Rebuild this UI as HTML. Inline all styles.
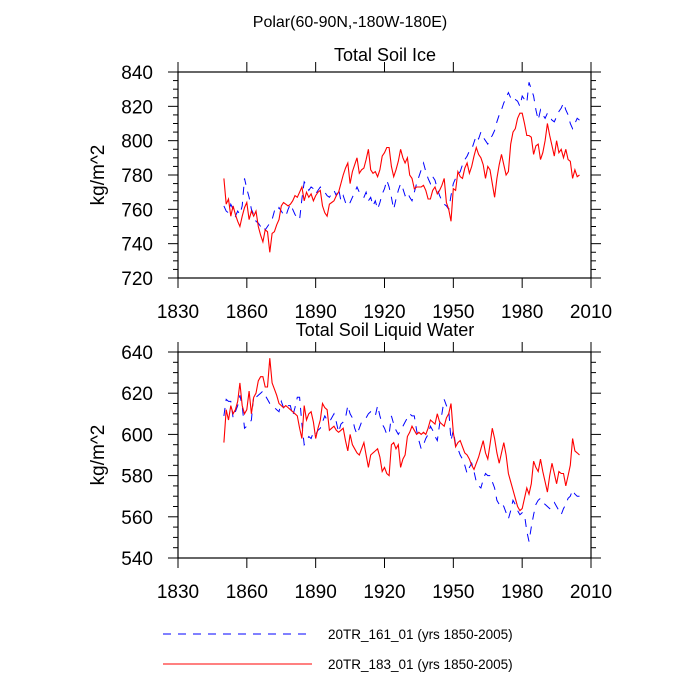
<!DOCTYPE html>
<html><head><meta charset="utf-8"><style>
html,body{margin:0;padding:0;background:#fff}
svg{display:block}
text{font-family:"Liberation Sans",sans-serif;fill:#000}
</style></head><body>
<svg id="chart" width="700" height="700" viewBox="0 0 700 700" xmlns="http://www.w3.org/2000/svg">
<text x="350" y="27" font-size="16" text-anchor="middle">Polar(60-90N,-180W-180E)</text>
<text x="385" y="61" font-size="18" text-anchor="middle">Total Soil Ice</text>
<text x="385" y="336" font-size="18" text-anchor="middle">Total Soil Liquid Water</text>
<g id="p1"></g>
<g id="p2"></g>
<g>
<line x1="163" y1="634" x2="312" y2="634" stroke="#0000ff" stroke-width="1" stroke-dasharray="8,7"/>
<text x="328" y="639" font-size="13.5">20TR_161_01 (yrs 1850-2005)</text>
<line x1="163" y1="664" x2="312" y2="664" stroke="#ff0000" stroke-width="1"/>
<text x="328" y="669" font-size="13.5">20TR_183_01 (yrs 1850-2005)</text>
</g>
</svg>
<script>
const startYear = 1850;
const xTicks = [1830,1860,1890,1920,1950,1980,2010];
const iceTicks = [720,740,760,780,800,820,840];
const liqTicks = [540,560,580,600,620,640];
const ice183 = [778,763,766,756,762,757,753,750,756,761,764,754,759,756,759,750,745,741,748,747,735,746,747,751,754,762,764,763,762,763,765,768,767,770,773,765,770,767,769,765,768,770,771,762,758,756,763,764,765,768,770,775,780,784,787,775,782,786,790,781,783,784,789,795,783,781,782,779,783,791,793,796,
796,785,779,783,788,795,790,787,790,780,778,772,773,773,773,774,771,766,766,771,773,769,771,774,778,764,760,753,772,771,782,779,778,784,787,781,785,791,796,792,790,786,778,785,783,775,767,778,786,792,786,780,782,798,805,807,813,816,816,810,803,803,802,792,797,798,789,793,800,810,803,797,791,800,793,795,790,795,789,788,778,783,779,780];
const ice161 = [762,759,758,763,760,756,759,757,762,778,772,767,760,757,753,752,750,751,748,750,752,754,759,758,761,759,757,756,760,763,760,757,755,754,766,776,774,771,773,772,769,771,773,771,770,768,767,769,771,768,772,765,768,764,762,764,767,770,773,770,768,767,770,765,767,762,765,760,764,769,772,777,
773,767,760,766,771,775,772,768,770,767,765,770,775,779,783,787,782,778,775,779,777,772,768,765,763,762,760,768,775,778,780,782,786,789,791,794,795,799,803,801,805,802,800,798,801,803,806,811,815,818,822,825,828,825,823,824,823,820,826,824,822,834,830,826,818,812,818,815,813,816,814,812,811,814,817,819,822,818,815,810,807,810,813,812];
const liq183 = [596,612,607,614,610,612,616,625,614,610,612,621,610,618,620,626,628,628,623,623,637,625,622,619,615,614,613,614,613,612,611,610,609,603,598,614,607,610,611,606,598,603,607,615,613,612,602,603,604,602,601,602,603,597,592,600,595,593,591,590,593,596,590,584,590,591,592,593,589,582,584,581,
580,595,596,593,595,584,588,590,599,601,604,602,600,601,600,601,600,603,607,606,605,610,606,605,604,608,610,615,601,594,596,597,594,591,590,588,585,583,586,589,593,597,591,588,595,603,598,591,586,591,596,590,581,577,573,569,565,563,564,569,574,571,576,587,584,582,588,582,577,572,580,586,581,576,582,581,581,575,580,585,598,592,591,590];
const liq161 = [609,617,616,616,608,611,614,619,614,603,604,605,607,619,618,619,620,621,619,617,615,614,613,612,611,616,613,612,614,614,609,613,618,618,605,595,597,599,598,601,600,602,603,606,609,607,606,608,610,606,601,605,606,608,614,610,608,603,600,603,606,607,608,610,611,610,609,614,609,605,603,600,
600,609,605,602,600,602,604,606,608,610,609,609,602,597,593,595,598,600,604,602,599,597,605,610,617,614,612,597,602,595,593,590,588,585,581,584,586,582,577,575,574,578,581,580,580,577,574,568,566,567,565,562,559,563,568,566,563,561,562,561,553,548,555,561,566,568,569,567,566,565,564,566,567,565,563,561,564,566,569,570,573,571,570,570];

const NS='http://www.w3.org/2000/svg';
function mk(parent,tag,attrs){const e=document.createElementNS(NS,tag);for(const k in attrs)e.setAttribute(k,attrs[k]);parent.appendChild(e);return e;}
const X0=178,X1=591;
function xs(yr){return X0+(yr-1830)/(2010-1830)*(X1-X0);}

function panel(g,top,bot,ymin,ymax,ticks,s161,s183,prefix){
  const ys=v=>bot-(v-ymin)/(ymax-ymin)*(bot-top);
  for(let v=ymin;v<=ymax;v+=5){
    const big=(v-ymin)%20===0;const L=big?10:5;
    const t1=mk(g,'line',{x1:X0,x2:X0-L,y1:ys(v),y2:ys(v),stroke:'#000','stroke-width':1});
    
    
    const t2=mk(g,'line',{x1:X1,x2:X1+L,y1:ys(v),y2:ys(v),stroke:'#000','stroke-width':1});
    
    
  }
  ticks.forEach(v=>{
    const t=mk(g,'text',{x:X0-25,y:ys(v)+7,'font-size':19,'text-anchor':'end'});t.textContent=v;
    
    
  });
  xTicks.forEach(yr=>{
    const a=mk(g,'line',{x1:xs(yr),x2:xs(yr),y1:bot,y2:bot+10,stroke:'#000','stroke-width':1});
    
    
    const b=mk(g,'line',{x1:xs(yr),x2:xs(yr),y1:top,y2:top-10,stroke:'#000','stroke-width':1});
    
    
    const t=mk(g,'text',{x:xs(yr),y:bot+40,'font-size':19,'text-anchor':'middle'});t.textContent=yr;
    
    
  });
  const fr=mk(g,'rect',{x:X0,y:top,width:X1-X0,height:bot-top,fill:'none',stroke:'#000','stroke-width':1.2});
  
  
  const cy=(top+bot)/2;
  const yt=mk(g,'text',{x:104,y:cy,'font-size':19,'text-anchor':'middle',transform:'rotate(-90 104 '+cy+')'});yt.textContent='kg/m^2';
  
  
  const pts=s=>s.map((v,i)=>xs(startYear+i).toFixed(1)+','+ys(v).toFixed(1)).join(' ');
  const l1=mk(g,'polyline',{points:pts(s161),fill:'none',stroke:'#0000ff','stroke-width':1,'stroke-dasharray':'8,7'});
  
  
  const l2=mk(g,'polyline',{points:pts(s183),fill:'none',stroke:'#ff0000','stroke-width':1.1});
  
  
}
panel(document.getElementById('p1'),72,278,720,840,iceTicks,ice161,ice183,'ice');
panel(document.getElementById('p2'),352,558,540,640,liqTicks,liq161,liq183,'liquid');
</script>
</body></html>
